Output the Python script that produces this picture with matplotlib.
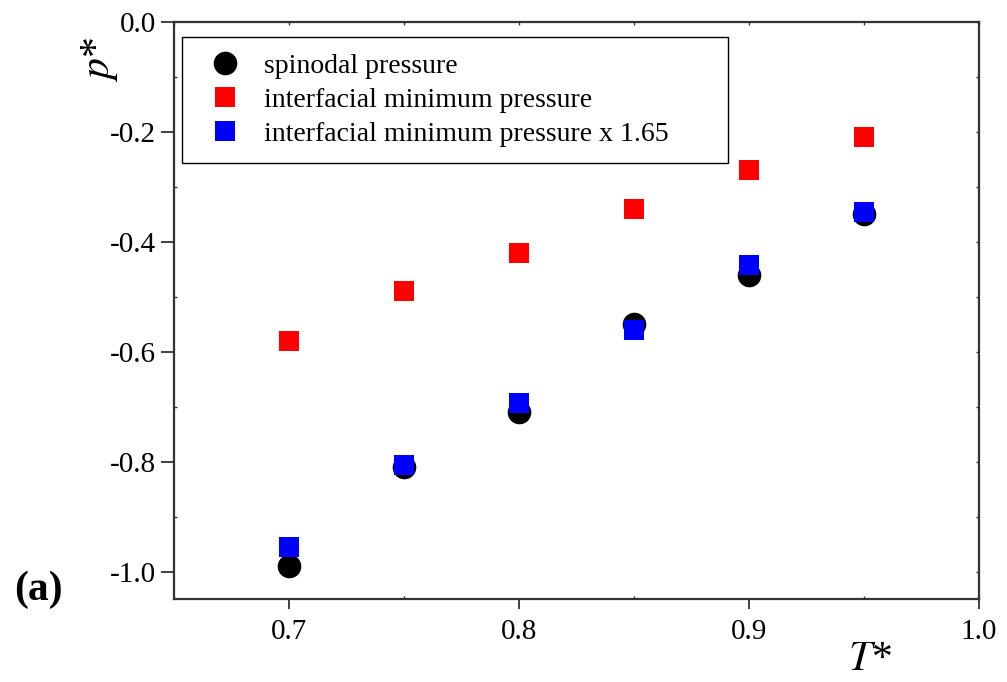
import numpy as np
import matplotlib.pyplot as plt
from matplotlib.ticker import MultipleLocator, NullFormatter

plt.rcParams['font.family'] = ['Liberation Serif', 'DejaVu Serif']
plt.rcParams['mathtext.fontset'] = 'stix'

# dados
T = [0.70, 0.75, 0.80, 0.85, 0.90, 0.95]
p_spinodal = [-0.99, -0.81, -0.71, -0.55, -0.46, -0.35]
p_interf = [-0.58, -0.49, -0.42, -0.34, -0.27, -0.21]
p_interf_165 = [-0.955, -0.806, -0.693, -0.56, -0.443, -0.345]

x_ticks = [0.7, 0.8, 0.9, 1.0]
y_ticks = [-1.0, -0.8, -0.6, -0.4, -0.2, 0.0]

fig = plt.figure(figsize=(10.07, 6.82), dpi=100)
ax = fig.add_axes([174/1007, 1 - 599/682, (979-174)/1007, (599-22)/682])

ax.plot(T, p_spinodal, linestyle='', marker='o', markersize=16,
        color='black', label='spinodal pressure')
ax.plot(T, p_interf, linestyle='', marker='s', markersize=14,
        color='red', markeredgewidth=0, label='interfacial minimum pressure')
ax.plot(T, p_interf_165, linestyle='', marker='s', markersize=14,
        color='blue', markeredgewidth=0, label='interfacial minimum pressure x 1.65')

ax.set_xlim(0.65, 1.0)
ax.set_ylim(-1.05, 0.0)
ax.set_xticks(x_ticks)
ax.set_xticklabels(['%.1f' % v for v in x_ticks])
ax.set_yticks(y_ticks)
ax.set_yticklabels(['%.1f' % v for v in y_ticks])
ax.xaxis.set_minor_locator(MultipleLocator(0.05))
ax.yaxis.set_minor_locator(MultipleLocator(0.1))

for s in ax.spines.values():
    s.set_linewidth(1.6)
    s.set_color('#333333')
ax.tick_params(axis='x', which='major', direction='out', length=7.5, width=1.3,
               labelsize=21, pad=7, color='#333333')
ax.tick_params(axis='y', which='major', direction='out', length=9.5, width=1.3,
               labelsize=21, pad=3.5, color='#333333')
ax.tick_params(which='minor', direction='in', length=2, width=1.0, color='#333333')

# eixos de cima e direita com ticks curtos para dentro
top = ax.secondary_xaxis('top')
top.set_xticks(x_ticks)
top.xaxis.set_minor_locator(MultipleLocator(0.05))
top.xaxis.set_major_formatter(NullFormatter())
top.spines['top'].set_visible(False)
top.tick_params(which='both', direction='in', length=2, width=1.0, color='#333333')
right = ax.secondary_yaxis('right')
right.set_yticks(y_ticks)
right.yaxis.set_minor_locator(MultipleLocator(0.1))
right.yaxis.set_major_formatter(NullFormatter())
right.spines['right'].set_visible(False)
right.tick_params(which='both', direction='in', length=2, width=1.0, color='#333333')

fig.text(870/1007, 1 - 660/682, '$T$*', fontsize=30, ha='center', va='center')
fig.text(100/1007, 1 - 60/682, '$p$*', fontsize=30, ha='center', va='center', rotation=90)
fig.text(38/1007, 1 - 590/682, '(a)', fontsize=30, fontweight='bold', ha='center', va='center')

leg = ax.legend(loc='upper left', mode='expand',
                bbox_to_anchor=(8/805, 1 - 133/577, 546/805, 118/577), fontsize=20,
                frameon=True, fancybox=False, edgecolor='black', framealpha=1,
                handletextpad=0.45, borderpad=0.6, labelspacing=0.3,
                handlelength=1.9, numpoints=1, borderaxespad=0)
leg.get_frame().set_linewidth(1.0)

plt.savefig('out.png', dpi=100)
